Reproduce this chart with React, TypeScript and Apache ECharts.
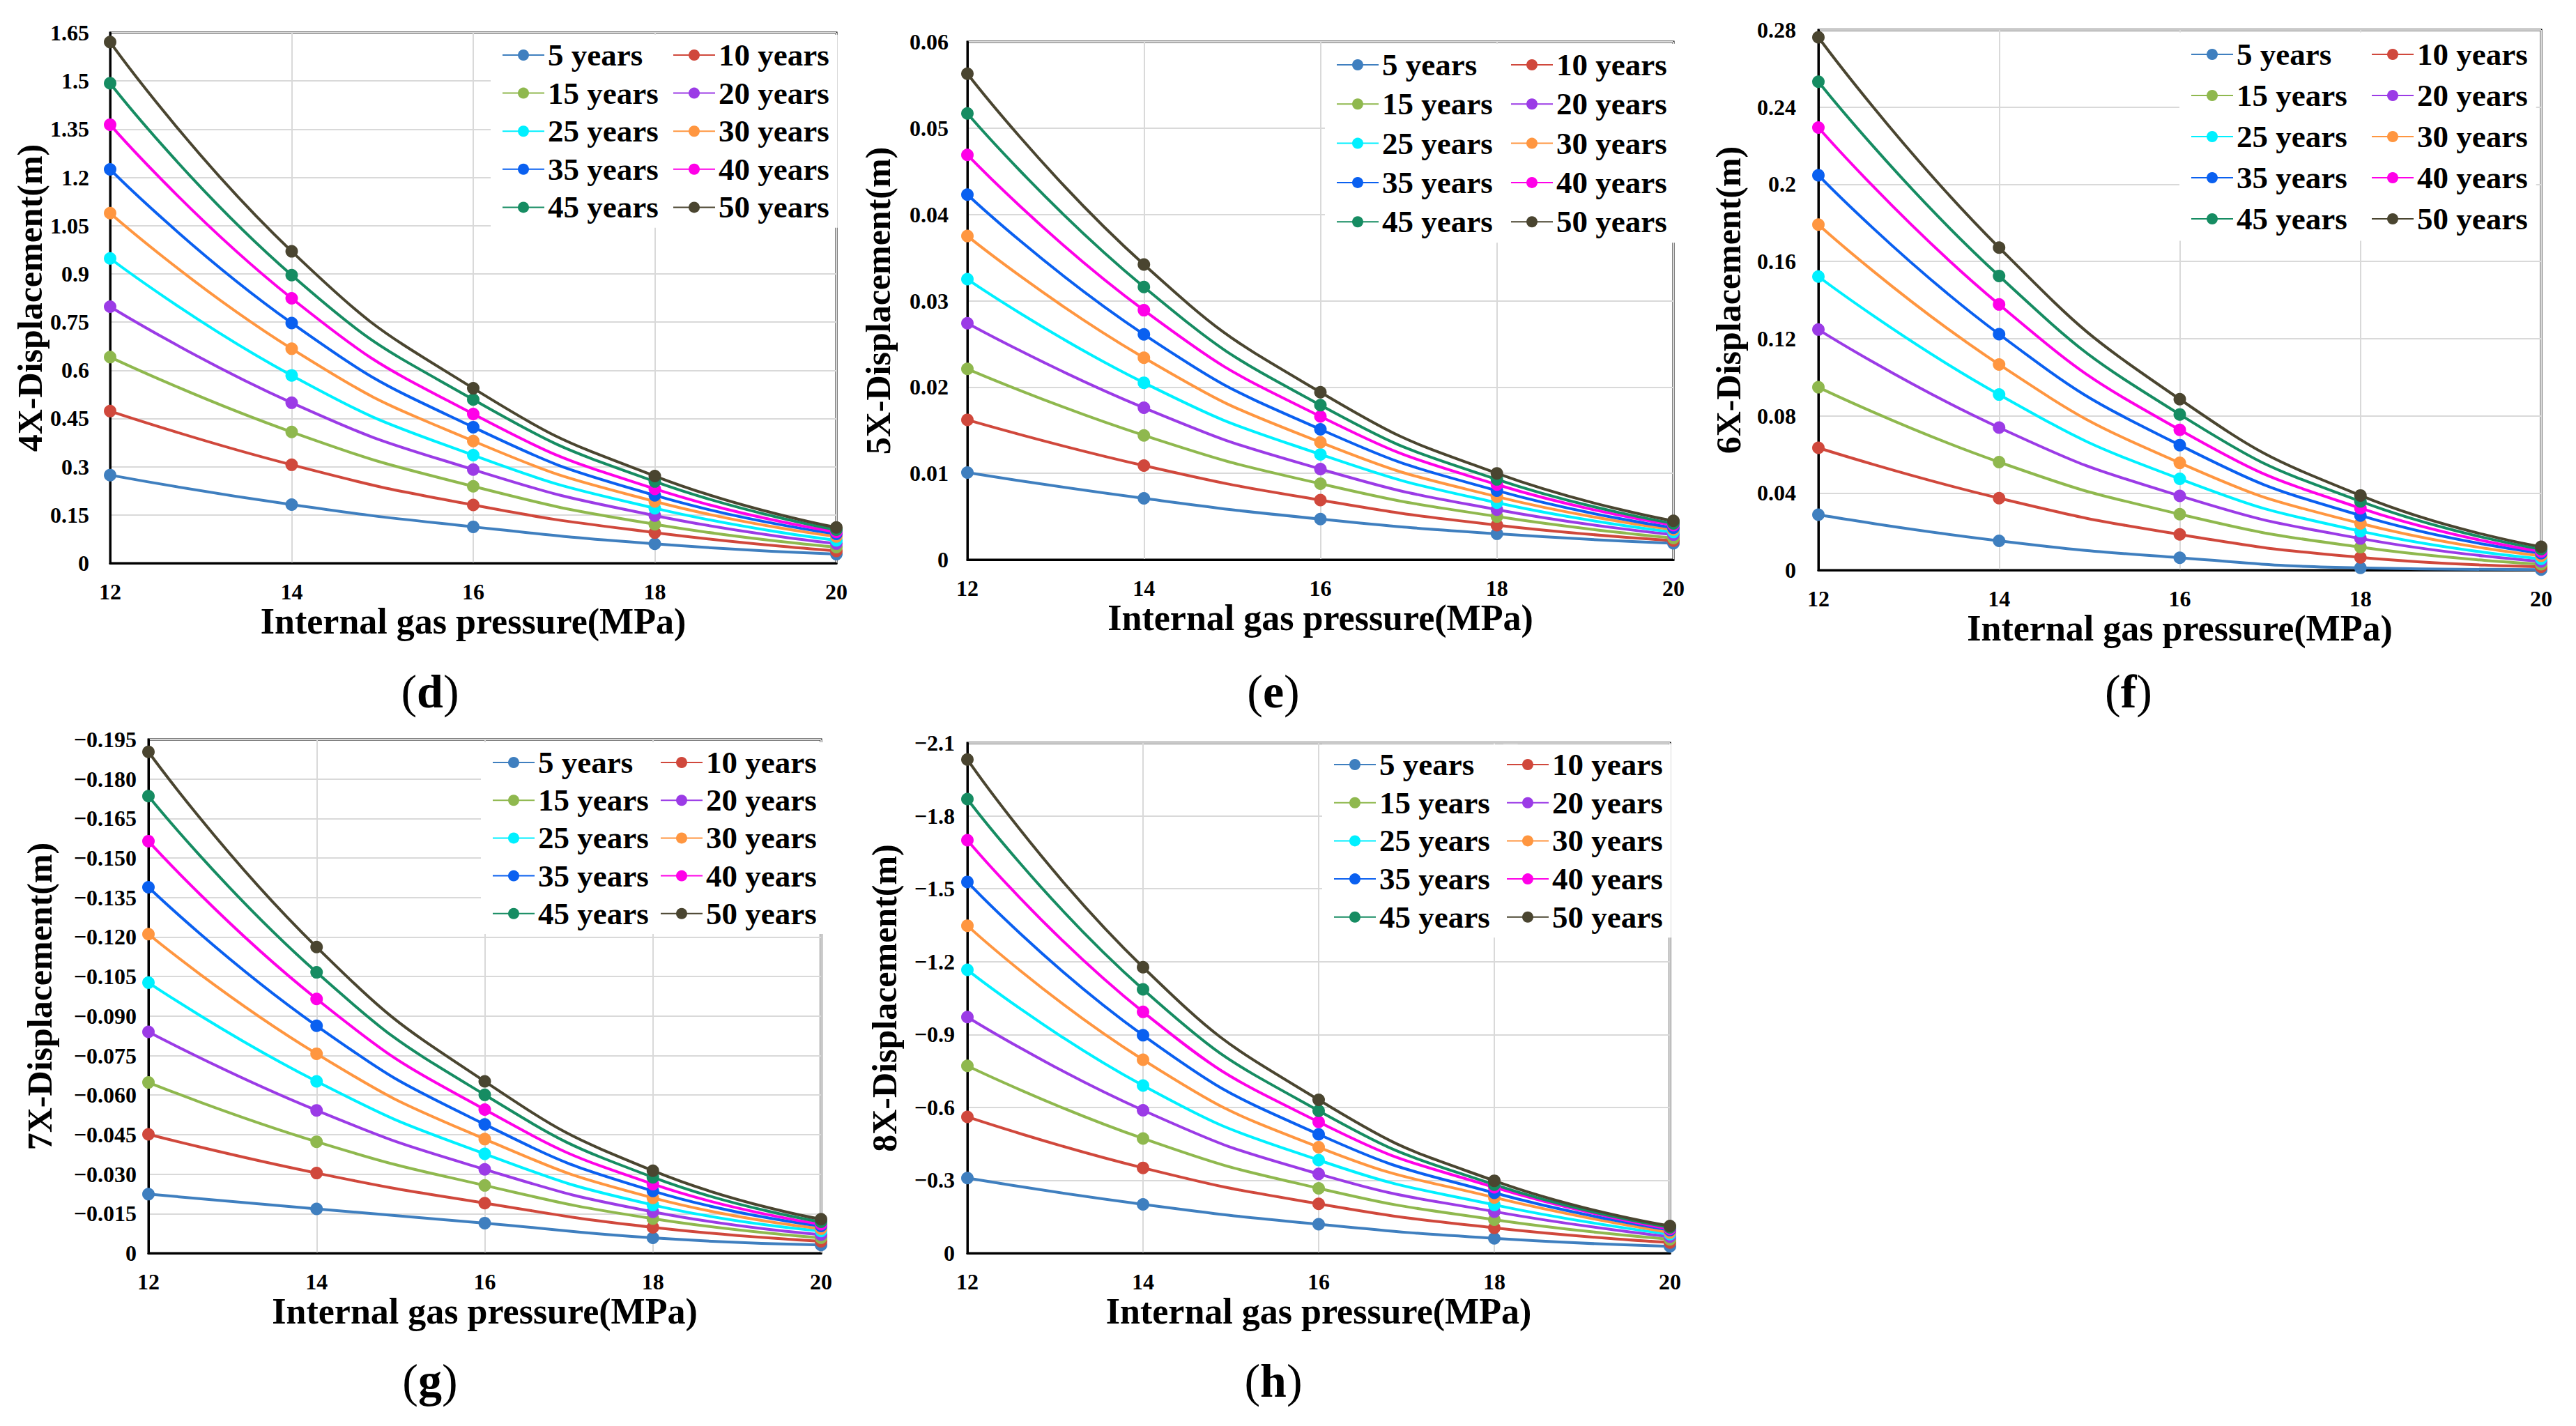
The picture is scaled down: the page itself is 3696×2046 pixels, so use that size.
// Painel com cinco graficos de deslocamento (4X a 8X) em funcao da pressao interna de gas,
// uma curva por idade do duto (5 a 50 anos). Uma unica instancia do ECharts com cinco grids.
import { useEffect, useRef } from 'react'
import * as echarts from 'echarts'

const PRESSURE = [12, 14, 16, 18, 20]
const YEARS = ['5 years', '10 years', '15 years', '20 years', '25 years', '30 years', '35 years', '40 years', '45 years', '50 years']
const YEAR_COLORS = ['#3f7fbf', '#d0483c', '#8fb84e', '#9b3be6', '#00f0ff', '#ff9640', '#0a60f0', '#ff00e8', '#168c62', '#4a4530']

// uma linha por idade, valores em 12, 14, 16, 18, 20 MPa
const DISP_4X = [
  [0.274, 0.182, 0.113, 0.060, 0.028],
  [0.473, 0.306, 0.181, 0.095, 0.038],
  [0.641, 0.408, 0.239, 0.121, 0.050],
  [0.798, 0.499, 0.291, 0.148, 0.061],
  [0.948, 0.584, 0.336, 0.171, 0.071],
  [1.089, 0.667, 0.380, 0.192, 0.083],
  [1.225, 0.747, 0.423, 0.211, 0.091],
  [1.364, 0.824, 0.464, 0.231, 0.097],
  [1.493, 0.896, 0.509, 0.254, 0.104],
  [1.621, 0.970, 0.544, 0.271, 0.111],
]
const DISP_5X = [
  [0.0101, 0.0071, 0.0047, 0.0030, 0.0019],
  [0.0162, 0.0109, 0.0069, 0.0040, 0.0022],
  [0.0221, 0.0144, 0.0088, 0.0050, 0.0025],
  [0.0274, 0.0176, 0.0105, 0.0058, 0.0029],
  [0.0325, 0.0205, 0.0122, 0.0066, 0.0032],
  [0.0375, 0.0234, 0.0136, 0.0073, 0.0035],
  [0.0423, 0.0261, 0.0151, 0.0080, 0.0037],
  [0.0469, 0.0289, 0.0166, 0.0087, 0.0040],
  [0.0517, 0.0316, 0.0179, 0.0093, 0.0042],
  [0.0563, 0.0342, 0.0194, 0.0100, 0.0045],
]
const DISP_6X = [
  [0.0287, 0.0152, 0.0064, 0.0012, 0.0003],
  [0.0634, 0.0373, 0.0185, 0.0066, 0.0017],
  [0.0948, 0.0560, 0.0290, 0.0119, 0.0031],
  [0.1247, 0.0739, 0.0385, 0.0164, 0.0045],
  [0.1522, 0.0910, 0.0473, 0.0202, 0.0059],
  [0.1791, 0.1066, 0.0556, 0.0242, 0.0074],
  [0.2047, 0.1223, 0.0648, 0.0283, 0.0088],
  [0.2294, 0.1377, 0.0727, 0.0321, 0.0097],
  [0.2532, 0.1525, 0.0807, 0.0356, 0.0109],
  [0.2762, 0.1672, 0.0886, 0.0387, 0.0121],
]
const DISP_7X = [
  [0.0224, 0.0168, 0.0114, 0.0058, 0.0031],
  [0.0451, 0.0304, 0.0190, 0.0098, 0.0045],
  [0.0648, 0.0423, 0.0257, 0.0131, 0.0058],
  [0.0840, 0.0542, 0.0318, 0.0157, 0.0070],
  [0.1027, 0.0652, 0.0377, 0.0183, 0.0084],
  [0.1211, 0.0757, 0.0433, 0.0210, 0.0093],
  [0.1389, 0.0863, 0.0489, 0.0236, 0.0103],
  [0.1564, 0.0965, 0.0545, 0.0262, 0.0110],
  [0.1735, 0.1066, 0.0601, 0.0288, 0.0119],
  [0.1903, 0.1162, 0.0652, 0.0313, 0.0129],
]
const DISP_8X = [
  [0.309, 0.201, 0.119, 0.061, 0.028],
  [0.561, 0.351, 0.203, 0.104, 0.044],
  [0.771, 0.472, 0.267, 0.138, 0.057],
  [0.972, 0.588, 0.326, 0.171, 0.068],
  [1.166, 0.690, 0.383, 0.199, 0.078],
  [1.348, 0.796, 0.436, 0.229, 0.085],
  [1.528, 0.897, 0.489, 0.248, 0.095],
  [1.700, 0.993, 0.540, 0.271, 0.100],
  [1.869, 1.086, 0.586, 0.282, 0.106],
  [2.032, 1.177, 0.631, 0.298, 0.112],
]

const SERIF = '"Liberation Serif", "Times New Roman", serif'
const negLabel = (dec: number) => (v: number) => (v === 0 ? '0' : '\u2212' + v.toFixed(dec))

interface Painel {
  letra: string
  titulo: string
  dados: number[][]
  max: number
  intervalo: number
  formato?: (v: number) => string
  grid: { left: number; top: number; width: number; height: number }
  margemY: number
  gapTituloY: number
  gapTituloX: number
  legenda: { col1: number; col2: number; linha1: number; passo: number }
  rotulo: { x: number; y: number }
}

const PAINEIS: Painel[] = [
  {
    letra: 'd', titulo: '4X-Displacement(m)', dados: DISP_4X, max: 1.65, intervalo: 0.15,
    grid: { left: 158, top: 47, width: 1042, height: 761 }, margemY: 30, gapTituloY: 90, gapTituloX: 56,
    legenda: { col1: 720, col2: 965, linha1: 79, passo: 54.6 }, rotulo: { x: 617, y: 992 },
  },
  {
    letra: 'e', titulo: '5X-Displacement(m)', dados: DISP_5X, max: 0.06, intervalo: 0.01,
    grid: { left: 1388, top: 60, width: 1013, height: 743 }, margemY: 27, gapTituloY: 103, gapTituloX: 57,
    legenda: { col1: 1917, col2: 2167, linha1: 93, passo: 56.3 }, rotulo: { x: 1827, y: 992 },
  },
  {
    letra: 'f', titulo: '6X-Displacement(m)', dados: DISP_6X, max: 0.28, intervalo: 0.04,
    grid: { left: 2609, top: 43, width: 1037, height: 775 }, margemY: 32, gapTituloY: 104, gapTituloX: 56,
    legenda: { col1: 3143, col2: 3402, linha1: 78, passo: 59 }, rotulo: { x: 3054, y: 992 },
  },
  {
    letra: 'g', titulo: '7X-Displacement(m)', dados: DISP_7X, max: 0.195, intervalo: 0.015, formato: negLabel(3),
    grid: { left: 213, top: 1061, width: 965, height: 737 }, margemY: 17, gapTituloY: 131, gapTituloX: 55,
    legenda: { col1: 706, col2: 947, linha1: 1094, passo: 54.2 }, rotulo: { x: 617, y: 1981 },
  },
  {
    letra: 'h', titulo: '8X-Displacement(m)', dados: DISP_8X, max: 2.1, intervalo: 0.3, formato: negLabel(1),
    grid: { left: 1388, top: 1066, width: 1008, height: 732 }, margemY: 18, gapTituloY: 94, gapTituloX: 57,
    legenda: { col1: 1913, col2: 2161, linha1: 1097, passo: 54.7 }, rotulo: { x: 1827, y: 1981 },
  },
]

function montarOpcao() {
  const grid: object[] = []
  const xAxis: object[] = []
  const yAxis: object[] = []
  const series: object[] = []
  const legend: object[] = []
  const graphic: object[] = []

  PAINEIS.forEach((p, i) => {
    grid.push({ ...p.grid, show: true, borderColor: '#000', borderWidth: 3, backgroundColor: 'transparent' })
    xAxis.push({
      type: 'value', gridIndex: i, min: 12, max: 20, interval: 2,
      name: 'Internal gas pressure(MPa)', nameLocation: 'middle', nameGap: p.gapTituloX,
      nameTextStyle: { fontFamily: SERIF, fontWeight: 'bold', fontSize: 52, color: '#000' },
      axisLine: { show: true, lineStyle: { color: '#000', width: 3 } },
      axisTick: { show: false },
      axisLabel: { margin: 25, fontFamily: SERIF, fontWeight: 'bold', fontSize: 32, color: '#000' },
      splitLine: { show: true, lineStyle: { color: '#d9d9d9', width: 2 } },
    })
    yAxis.push({
      type: 'value', gridIndex: i, min: 0, max: p.max, interval: p.intervalo,
      name: p.titulo, nameLocation: 'middle', nameGap: p.gapTituloY,
      nameTextStyle: { fontFamily: SERIF, fontWeight: 'bold', fontSize: 50, color: '#000' },
      axisLine: { show: true, lineStyle: { color: '#000', width: 3 } },
      axisTick: { show: false },
      axisLabel: {
        margin: p.margemY, fontFamily: SERIF, fontWeight: 'bold', fontSize: 32, color: '#000',
        ...(p.formato ? { formatter: p.formato } : {}),
      },
      splitLine: { show: true, lineStyle: { color: '#d9d9d9', width: 2 } },
    })
    p.dados.forEach((linha, k) => {
      series.push({
        name: YEARS[k], type: 'line', xAxisIndex: i, yAxisIndex: i, smooth: true,
        symbol: 'circle', symbolSize: 18, color: YEAR_COLORS[k],
        lineStyle: { width: 4 },
        data: linha.map((v, j) => [PRESSURE[j], v]),
      })
    })
    const { col1, col2, linha1, passo } = p.legenda
    const base = {
      orient: 'vertical', itemGap: 0, itemWidth: 60, itemHeight: 20,
      top: linha1 - passo / 2 - 2, backgroundColor: '#fff',
      textStyle: { fontFamily: SERIF, fontSize: 45, fontWeight: 'bold', color: '#000', lineHeight: passo },
    }
    legend.push({ ...base, left: col1 - 16, padding: [2, 40, 2, 16], data: YEARS.filter((_, k) => k % 2 === 0) })
    legend.push({ ...base, left: col2 - 4, padding: [2, 12, 2, 4], data: YEARS.filter((_, k) => k % 2 === 1) })
    graphic.push({
      type: 'text', x: p.rotulo.x, y: p.rotulo.y,
      style: {
        text: `{p|(}{b|${p.letra}}{p|)}`, align: 'center', verticalAlign: 'middle',
        rich: {
          p: { fontFamily: SERIF, fontSize: 68, fill: '#000' },
          b: { fontFamily: SERIF, fontSize: 68, fontWeight: 'bold', fill: '#000' },
        },
      },
    })
  })

  return { animation: false, backgroundColor: '#fff', grid, xAxis, yAxis, series, legend, graphic }
}

export default function App() {
  const ref = useRef<HTMLDivElement>(null)

  useEffect(() => {
    if (!ref.current) return
    const chart = echarts.init(ref.current, null, { renderer: 'svg' })
    chart.setOption(montarOpcao())
    return () => chart.dispose()
  }, [])

  return <div ref={ref} style={{ position: 'fixed', left: 0, top: 0, width: 3696, height: 2046, background: '#fff' }} />
}
